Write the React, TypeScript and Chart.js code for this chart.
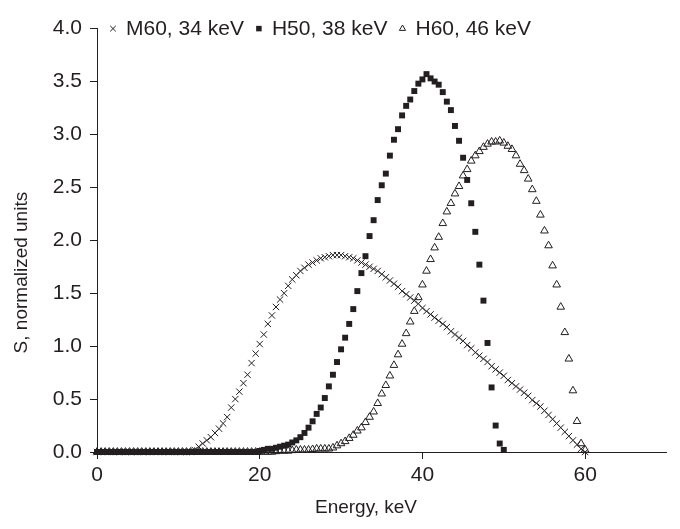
import React, { useEffect, useRef } from 'react';
import { Chart, registerables } from 'chart.js';

Chart.register(...registerables);

// ---------- data ----------
// energy grid, keV (0 .. 60 in 0.5 keV steps)
const ENERGY_KEV: number[] = Array.from({ length: 121 }, (_, i) => i * 0.5);

const SERIES_LABELS = ['M60, 34 keV', 'H50, 38 keV', 'H60, 46 keV'];
const X_TITLE = 'Energy, keV';
const Y_TITLE = 'S, normalized units';

// M60, 34 keV (values at 0, 0.5, 1.0 ... 60 keV)
const M60_VALUES: number[] = [
  0, 0, 0, 0, 0, 0, 0, 0, 0, 0, 0, 0, 0, 0, 0, 0, 0, 0, 0, 0, 0, 0, 0, 0,
  0.02, 0.05, 0.08, 0.11, 0.14, 0.18, 0.22, 0.27, 0.33, 0.42,
  0.50, 0.57, 0.65, 0.73, 0.84, 0.93, 1.02, 1.11, 1.21, 1.29,
  1.37, 1.44, 1.50, 1.57, 1.63, 1.67, 1.71, 1.74, 1.77, 1.79,
  1.81, 1.83, 1.84, 1.85, 1.86, 1.86, 1.86, 1.85, 1.84, 1.83,
  1.81, 1.79, 1.77, 1.75, 1.73, 1.71, 1.68, 1.65, 1.62, 1.59,
  1.56, 1.52, 1.49, 1.46, 1.43, 1.40, 1.36, 1.33, 1.30, 1.27,
  1.24, 1.21, 1.18, 1.14, 1.11, 1.08, 1.05, 1.01, 0.98, 0.94,
  0.91, 0.88, 0.85, 0.81, 0.78, 0.75, 0.72, 0.68, 0.65, 0.62,
  0.59, 0.56, 0.53, 0.49, 0.46, 0.43, 0.39, 0.35, 0.31, 0.27,
  0.23, 0.19, 0.15, 0.11, 0.07, 0.03, 0.0,
];

// H50, 38 keV (values at 0 ... 50 keV)
const H50_VALUES: number[] = [
  0, 0, 0, 0, 0, 0, 0, 0, 0, 0, 0, 0, 0, 0, 0, 0, 0, 0, 0, 0,
  0, 0, 0, 0, 0, 0, 0, 0, 0, 0, 0, 0, 0, 0, 0, 0, 0, 0, 0, 0,
  0.01, 0.02, 0.03, 0.03, 0.04, 0.05, 0.06, 0.07, 0.09, 0.11,
  0.14, 0.18, 0.23, 0.29, 0.36, 0.42, 0.51, 0.62, 0.73, 0.85,
  0.97, 1.08, 1.21, 1.35, 1.52, 1.69, 1.85, 2.04, 2.19, 2.38,
  2.52, 2.63, 2.80, 2.95, 3.05, 3.18, 3.27, 3.33, 3.41, 3.48,
  3.52, 3.57, 3.53, 3.50, 3.47, 3.40, 3.31, 3.23, 3.08, 2.94,
  2.78, 2.57, 2.35, 2.08, 1.77, 1.43, 1.03, 0.61, 0.25, 0.08,
  0.02,
];

// H60, 46 keV (values at 0 ... 60 keV)
const H60_VALUES: number[] = [
  0, 0, 0, 0, 0, 0, 0, 0, 0, 0, 0, 0, 0, 0, 0, 0, 0, 0, 0, 0, 0, 0,
  0, 0, 0, 0, 0, 0, 0, 0, 0, 0, 0, 0, 0, 0, 0, 0, 0, 0, 0, 0, 0, 0,
  0.005, 0.01, 0.01, 0.01, 0.015, 0.02, 0.02, 0.02, 0.02, 0.025,
  0.03, 0.03, 0.03, 0.03, 0.04, 0.06, 0.08, 0.10, 0.13, 0.16,
  0.20, 0.23, 0.28, 0.33, 0.38, 0.46, 0.55, 0.63, 0.72, 0.82,
  0.92, 1.02, 1.12, 1.23, 1.33, 1.46, 1.58, 1.71, 1.82, 1.93,
  2.03, 2.16, 2.27, 2.35, 2.44, 2.51, 2.61, 2.67, 2.75, 2.80,
  2.84, 2.88, 2.91, 2.93, 2.93, 2.94, 2.92, 2.89, 2.86, 2.80,
  2.72, 2.66, 2.58, 2.48, 2.37, 2.24, 2.09, 1.95, 1.76, 1.58,
  1.37, 1.13, 0.88, 0.58, 0.29, 0.08, 0.02,
];

const X_TICKS = [0, 20, 40, 60];
const Y_TICKS = [0, 0.5, 1.0, 1.5, 2.0, 2.5, 3.0, 3.5, 4.0];

// ---------- style ----------
const INK = '#231f20';
const FONT = '"Liberation Sans", Arial, Helvetica, sans-serif';

function drawLegendMarker(ctx: CanvasRenderingContext2D, style: string, x: number, y: number) {
  ctx.save();
  ctx.strokeStyle = INK;
  ctx.fillStyle = INK;
  ctx.lineWidth = 1;
  if (style === 'crossRot') {
    const h = 2.8;
    ctx.beginPath();
    ctx.moveTo(x - h, y - h);
    ctx.lineTo(x + h, y + h);
    ctx.moveTo(x - h, y + h);
    ctx.lineTo(x + h, y - h);
    ctx.stroke();
  } else if (style === 'rect') {
    ctx.fillRect(x - 2.75, y - 2.75, 5.5, 5.5);
  } else if (style === 'triangle') {
    const r = 3.6;
    ctx.beginPath();
    ctx.moveTo(x, y - r);
    ctx.lineTo(x + r * 0.866, y + r * 0.5);
    ctx.lineTo(x - r * 0.866, y + r * 0.5);
    ctx.closePath();
    ctx.stroke();
  }
  ctx.restore();
}

// legend across the top edge of the plot + axis titles
const annotationsPlugin = {
  id: 'legendAndTitles',
  afterDraw(chart: any) {
    const ctx: CanvasRenderingContext2D = chart.ctx;
    const area = chart.chartArea;
    ctx.save();
    ctx.fillStyle = INK;
    ctx.textBaseline = 'middle';

    // legend
    ctx.font = `21px ${FONT}`;
    ctx.textAlign = 'left';
    let x = area.left + 16;
    const y = area.top;
    chart.data.datasets.forEach((ds: any) => {
      drawLegendMarker(ctx, ds.pointStyle, x, y);
      x += 13;
      ctx.fillText(ds.label, x, y + 1);
      x += ctx.measureText(ds.label).width + 15;
    });

    // axis titles
    ctx.font = `19px ${FONT}`;
    ctx.textAlign = 'center';
    ctx.fillText(X_TITLE, area.left + 269, area.bottom + 56);

    ctx.translate(14, area.top + 244);
    ctx.rotate(-Math.PI / 2);
    ctx.fillText(Y_TITLE, 0, 0);
    ctx.restore();
  },
};

const toPoints = (vals: number[]) => vals.map((v, i) => ({ x: ENERGY_KEV[i], y: v }));

export default function App() {
  const canvasRef = useRef<HTMLCanvasElement | null>(null);

  useEffect(() => {
    if (!canvasRef.current) return;
    Chart.defaults.font.family = FONT;
    Chart.defaults.color = INK;

    const axisGrid = {
      display: true,
      drawOnChartArea: false,
      drawTicks: true,
      tickLength: 7,
      color: INK,
      lineWidth: 1,
    };

    const chart = new Chart(canvasRef.current, {
      type: 'scatter',
      data: {
        datasets: [
          {
            label: SERIES_LABELS[0],
            data: toPoints(M60_VALUES),
            pointStyle: 'crossRot',
            pointRadius: 4.5,
            borderColor: INK,
            backgroundColor: INK,
            borderWidth: 1,
            showLine: false,
            clip: false,
          },
          {
            label: SERIES_LABELS[1],
            data: toPoints(H50_VALUES),
            pointStyle: 'rect',
            pointRadius: 4.2,
            borderColor: INK,
            backgroundColor: INK,
            borderWidth: 0,
            showLine: false,
            clip: false,
          },
          {
            label: SERIES_LABELS[2],
            data: toPoints(H60_VALUES),
            pointStyle: 'triangle',
            pointRadius: 4.4,
            borderColor: INK,
            backgroundColor: 'rgba(255,255,255,0)',
            borderWidth: 1,
            showLine: false,
            clip: false,
          },
        ] as any,
      },
      options: {
        animation: false,
        responsive: true,
        maintainAspectRatio: false,
        layout: { padding: { top: 10, right: 1, left: 0, bottom: 0 } },
        plugins: {
          legend: { display: false },
          tooltip: { enabled: false },
        },
        scales: {
          x: {
            type: 'linear',
            min: 0,
            max: 70,
            afterBuildTicks: (axis: any) => {
              axis.ticks = X_TICKS.map((v) => ({ value: v }));
            },
            afterFit: (scale: any) => {
              scale.height = 69;
            },
            ticks: {
              font: { size: 21 },
              color: INK,
              padding: 4,
              maxRotation: 0,
              callback: (v: any) => String(v),
            },
            grid: axisGrid,
            border: { display: true, color: INK, width: 1 },
          },
          y: {
            type: 'linear',
            min: 0,
            max: 4,
            afterBuildTicks: (axis: any) => {
              axis.ticks = Y_TICKS.map((v) => ({ value: v }));
            },
            afterFit: (scale: any) => {
              scale.width = 89;
            },
            ticks: {
              font: { size: 21 },
              color: INK,
              padding: 8,
              callback: (v: any) => Number(v).toFixed(1),
            },
            grid: axisGrid,
            border: { display: true, color: INK, width: 1 },
          },
        },
      },
      plugins: [annotationsPlugin],
    });

    return () => chart.destroy();
  }, []);

  return (
    <div style={{ width: 664, height: 513, position: 'relative' }}>
      <canvas ref={canvasRef} />
    </div>
  );
}
